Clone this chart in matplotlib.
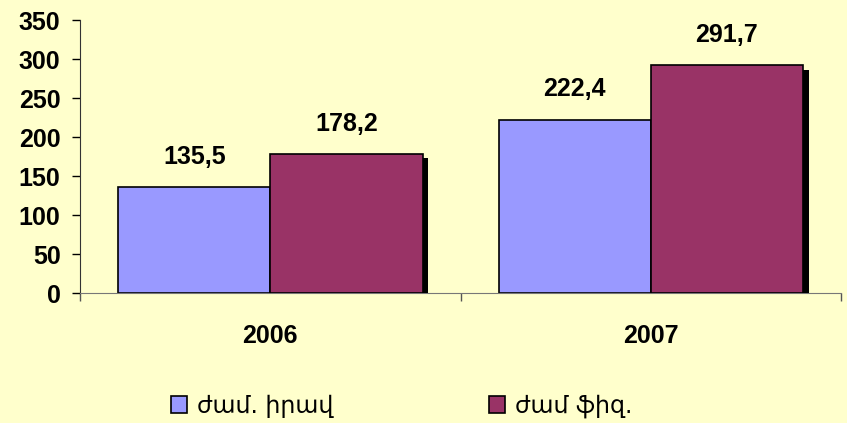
import matplotlib
matplotlib.use("Agg")
import matplotlib.pyplot as plt
import matplotlib.patheffects as pe
from matplotlib.patches import Patch
import numpy as np

categories = ["2006", "2007"]
series_names = ["ժամ. իրավ", "ժամ ֆիզ."]
series1 = [135.5, 222.4]
series2 = [178.2, 291.7]
value_labels1 = ["135,5", "222,4"]
value_labels2 = ["178,2", "291,7"]
yticks = [0, 50, 100, 150, 200, 250, 300, 350]

bg = "#FFFFCC"
c1 = "#9999FF"
c2 = "#993366"

fig = plt.figure(figsize=(8.47, 4.23), dpi=100, facecolor=bg)
ax = fig.add_axes([0.0945, 0.3073, 0.8985, 0.6454], facecolor=bg)

x = np.arange(len(categories))
w = 0.4
shadow = [pe.SimplePatchShadow(offset=(4.3, -2.9), shadow_rgbFace="black", alpha=1.0), pe.Normal()]
b1 = ax.bar(x - w / 2, series1, w, color=c1, edgecolor="black", linewidth=1.2, path_effects=shadow, zorder=2)
b2 = ax.bar(x + w / 2, series2, w, color=c2, edgecolor="black", linewidth=1.2, path_effects=shadow, zorder=3)

lab_font = dict(family="Liberation Sans", weight="bold", size=18)
for xi, v, s in zip(x - w / 2, series1, value_labels1):
    ax.annotate(s, (xi, v), xytext=(0, 13), textcoords="offset points", ha="center", va="bottom", **lab_font)
for xi, v, s in zip(x + w / 2, series2, value_labels2):
    ax.annotate(s, (xi, v), xytext=(0, 13), textcoords="offset points", ha="center", va="bottom", **lab_font)

ax.set_xlim(-0.5, 1.5)
ax.set_ylim(0, 350)
ax.set_yticks(yticks)
ax.set_yticklabels([str(t) for t in yticks], fontdict=lab_font)
ax.tick_params(axis="y", direction="out", length=6, width=1, pad=8)

ax.set_xticks([-0.5, 0.5, 1.5])
ax.set_xticklabels(["", "", ""])
ax.set_xticks(x, minor=True)
ax.set_xticklabels(categories, minor=True, fontdict=dict(family="Liberation Sans", weight="bold", size=18))
ax.tick_params(axis="x", which="major", direction="out", length=6, width=1, color="#555555")
ax.tick_params(axis="x", which="minor", length=0, pad=22)

for s in ["top", "right"]:
    ax.spines[s].set_visible(False)
ax.spines["left"].set_color("#333333")
ax.spines["bottom"].set_color("#777777")

handles = [Patch(facecolor=c1, edgecolor="black", linewidth=1.2), Patch(facecolor=c2, edgecolor="black", linewidth=1.2)]
fig.legend(handles, series_names, loc="center left", bbox_to_anchor=(171 / 847, 17 / 423), ncol=2, frameon=False,
           prop=dict(family="DejaVu Sans", size=17), handlelength=0.68, handleheight=0.68,
           handletextpad=0.42, columnspacing=6.6, borderpad=0, borderaxespad=0)

fig.savefig("out.png", dpi=100, facecolor=bg)
